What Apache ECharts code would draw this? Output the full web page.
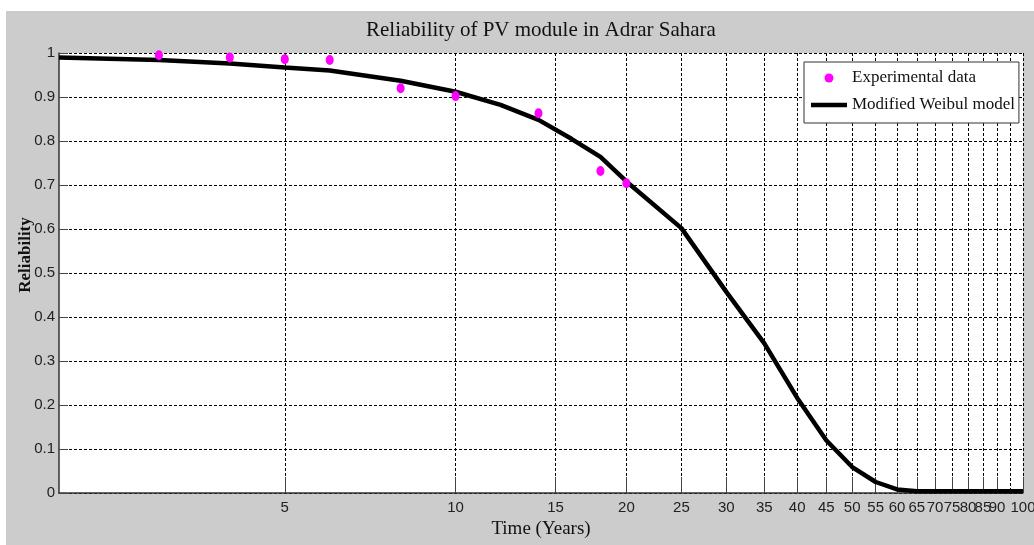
<!DOCTYPE html>
<html>
<head>
<meta charset="utf-8">
<script src="https://cdn.jsdelivr.net/npm/echarts@6/dist/echarts.min.js"></script>
<style>
  html, body { margin: 0; padding: 0; background: #ffffff; }
  #bg { position: absolute; left: 6px; top: 11px; right: 0; bottom: 0; background: #cccccc; }
  #chart { position: absolute; left: 0; top: 0; width: 1034px; height: 545px; }
</style>
</head>
<body>
<div id="bg"></div>
<div id="chart"></div>
<script>
// ---- data ----
const titleText = 'Reliability of PV module in Adrar Sahara';
const xAxisName = 'Time (Years)';
const yAxisName = 'Reliability';
const expName = 'Experimental data';
const modelName = 'Modified Weibul model';

const expYears = [3, 4, 5, 6, 8, 10, 14, 18, 20];
const expReliability = [0.995, 0.99, 0.986, 0.984, 0.92, 0.902, 0.863, 0.732, 0.704];

const modelYears = [2, 3, 4, 5, 6, 8, 10, 12, 14, 16, 18, 20, 25, 30, 35, 40, 45, 50, 55, 60, 65, 70, 75, 80, 85, 90, 95, 100];
const modelReliability = [0.990, 0.984, 0.976, 0.967, 0.960, 0.937, 0.912, 0.882, 0.848, 0.805, 0.764, 0.708, 0.602, 0.457, 0.340, 0.216, 0.120, 0.059, 0.025, 0.008, 0.004, 0.004, 0.004, 0.004, 0.004, 0.004, 0.004, 0.004];

const xTickValues = [5, 10, 15, 20, 25, 30, 35, 40, 45, 50, 55, 60, 65, 70, 75, 80, 85, 90, 95, 100];
const xMin = 2, xMax = 100;

// ---- chart ----
const lg = v => Math.log10(v);
const tickFont = "'Liberation Sans', Arial, sans-serif";
const serif = "'Liberation Serif', 'DejaVu Serif', serif";

const chart = echarts.init(document.getElementById('chart'), null, { renderer: 'canvas' });
const option = {
  backgroundColor: 'transparent',
  animation: false,
  title: {
    text: titleText,
    left: 361,
    top: 15,
    textStyle: { fontFamily: serif, fontSize: 21, fontWeight: 'normal', color: '#111' }
  },
  grid: {
    left: 59, top: 53, right: 11, bottom: 52,
    outerBoundsMode: 'none',
    containLabel: false,
    show: true, backgroundColor: '#ffffff', borderWidth: 0
  },
  legend: {
    orient: 'vertical',
    left: 804, top: 62,
    padding: [7, 4, 9, 7],
    itemGap: 9,
    itemWidth: 36, itemHeight: 9,
    backgroundColor: '#ffffff',
    borderColor: '#333333', borderWidth: 1, borderRadius: 0,
    textStyle: { fontFamily: serif, fontSize: 17, color: '#111', lineHeight: 18 },
    data: [
      { name: expName, icon: 'circle' },
      { name: modelName, icon: 'path://M0,0 L36,0 L36,4.5 L0,4.5 Z' }
    ]
  },
  xAxis: {
    type: 'value',
    min: lg(xMin), max: lg(xMax),
    name: xAxisName,
    nameLocation: 'middle',
    nameGap: 25,
    nameTextStyle: { fontFamily: serif, fontSize: 19, color: '#111' },
    axisLine: { show: true, onZero: false, lineStyle: { color: '#333', width: 1.5 } },
    axisTick: { show: true, inside: true, length: 16, customValues: xTickValues.map(lg), lineStyle: { color: '#444' } },
    axisLabel: {
      customValues: xTickValues.map(lg),
      showMaxLabel: true,
      showMinLabel: true,
      hideOverlap: false,
      margin: 7,
      fontFamily: tickFont, fontSize: 15, color: '#222',
      formatter: v => String(Math.round(Math.pow(10, v)))
    },
    splitLine: { show: true, lineStyle: { color: '#000', type: [3, 2], width: 1 } }
  },
  yAxis: {
    type: 'value',
    min: 0, max: 1, interval: 0.1,
    name: yAxisName,
    nameLocation: 'middle',
    nameMoveOverlap: false,
    nameGap: 25,
    nameTextStyle: { fontFamily: serif, fontSize: 17, fontWeight: 'bold', color: '#111', padding: [0, 0, 0, 36] },
    axisLine: { show: true, onZero: false, lineStyle: { color: '#333', width: 1.5 } },
    axisTick: { show: true, inside: true, length: 9, lineStyle: { color: '#444' } },
    axisLabel: {
      margin: 4,
      fontFamily: tickFont, fontSize: 15, color: '#222',
      formatter: v => (Math.abs(v) < 1e-9 ? '0' : (Math.abs(v - 1) < 1e-9 ? '1' : v.toFixed(1)))
    },
    splitLine: { show: true, lineStyle: { color: '#000', type: [3, 2], width: 1 } }
  },
  series: [
    {
      name: modelName,
      type: 'line',
      data: modelYears.map((x, i) => [lg(x), modelReliability[i]]),
      showSymbol: false,
      symbol: 'none',
      lineStyle: { color: '#000', width: 4.5 },
      itemStyle: { color: '#000' },
      z: 2
    },
    {
      name: expName,
      type: 'scatter',
      data: expYears.map((x, i) => [lg(x), expReliability[i]]),
      symbol: 'circle',
      symbolSize: [8, 10],
      itemStyle: { color: '#ff00ff', opacity: 1 },
      z: 3
    }
  ]
};
chart.setOption(option);
</script>
</body>
</html>
